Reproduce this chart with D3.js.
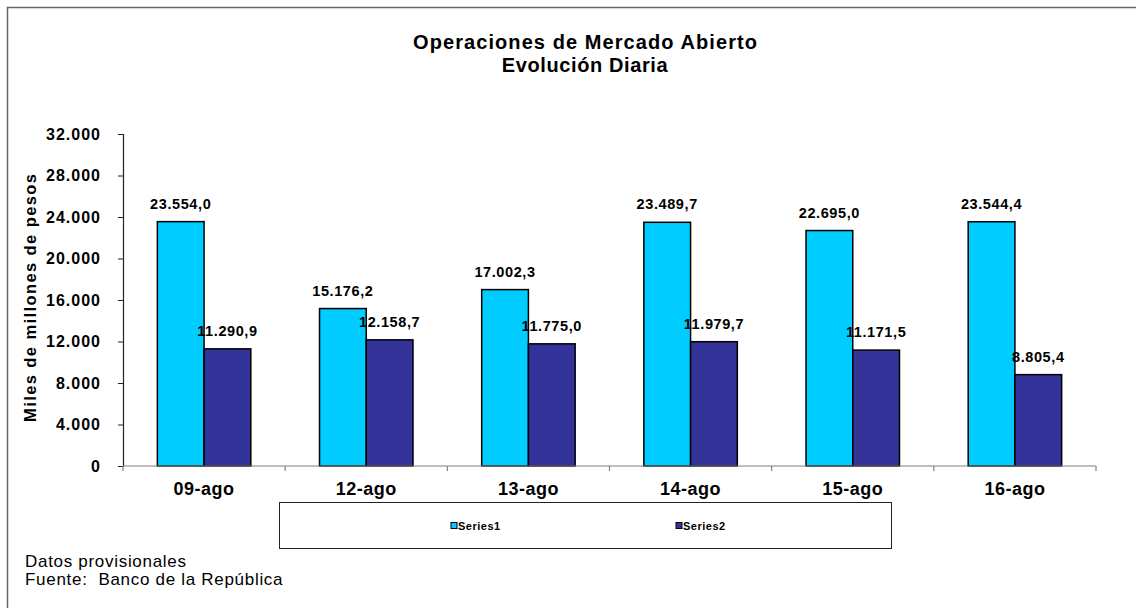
<!DOCTYPE html>
<html>
<head>
<meta charset="utf-8">
<script src="https://cdn.jsdelivr.net/npm/d3@7"></script>
<style>
  body { margin: 0; background: #fff; }
  svg { display: block; font-family: Arial, "Liberation Sans", sans-serif; }
  .tick-lbl { font-size: 16px; font-weight: bold; letter-spacing: 1px; }
  .cat-lbl { font-size: 18px; font-weight: bold; letter-spacing: 0.5px; }
  .val-lbl { font-size: 14.5px; font-weight: bold; letter-spacing: 0.6px; }
</style>
</head>
<body>
<svg class="svg-canvas" width="1136" height="608"></svg>
<script>
var categories = ["09-ago", "12-ago", "13-ago", "14-ago", "15-ago", "16-ago"];
var series1 = [23554.0, 15176.2, 17002.3, 23489.7, 22695.0, 23544.4];
var series2 = [11290.9, 12158.7, 11775.0, 11979.7, 11171.5, 8805.4];
var seriesNames = ["Series1", "Series2"];
var seriesColors = ["#00CCFF", "#333399"];
var yTicks = [0, 4000, 8000, 12000, 16000, 20000, 24000, 28000, 32000];

var svg = d3.select(".svg-canvas");
var width = 1136, height = 608;

var locale = d3.formatLocale({ decimal: ",", thousands: ".", grouping: [3], currency: ["$", ""] });
var fmtTick = locale.format(",.0f");
var fmtVal = locale.format(",.1f");

// outer frame
svg.append("rect")
  .attr("x", 7.5).attr("y", 7.5)
  .attr("width", width).attr("height", height)
  .attr("fill", "none").attr("stroke", "#666").attr("stroke-width", 1.5);

// titles
svg.append("text")
  .attr("x", 585).attr("y", 49)
  .attr("text-anchor", "middle")
  .style("font-size", "20px").style("font-weight", "bold")
  .attr("textLength", 344).attr("lengthAdjust", "spacing")
  .text("Operaciones de Mercado Abierto");
svg.append("text")
  .attr("x", 585).attr("y", 72)
  .attr("text-anchor", "middle")
  .style("font-size", "20px").style("font-weight", "bold")
  .style("letter-spacing", "0.6px")
  .text("Evolución Diaria");

var x0 = 123, x1 = 1096, yTop = 134, yBot = 466;

var x = d3.scaleBand().domain(categories).range([x0, x1]).paddingInner(0).paddingOuter(0);
var inner = d3.scaleBand().domain([0, 1]).range([0, x.bandwidth()]).paddingOuter(0.735).paddingInner(0);
var y = d3.scaleLinear().domain([0, 32000]).range([yBot, yTop]);

// y axis
var yAxis = svg.append("g").attr("transform", "translate(" + x0 + ",0)")
  .call(d3.axisLeft(y).tickValues(yTicks).tickSize(5).tickFormat(fmtTick));
yAxis.select(".domain").attr("stroke", "#222").attr("stroke-width", 1.2);
yAxis.selectAll(".tick line").attr("stroke", "#222");
yAxis.selectAll(".tick text").attr("class", "tick-lbl").attr("x", -22).attr("fill", "#000").style("font-family", null);

// bars
var data = categories.map(function(c, i) {
  return [{ cat: c, s: 0, v: series1[i] }, { cat: c, s: 1, v: series2[i] }];
});
var groups = svg.selectAll("g.cat").data(data).enter()
  .append("g").attr("class", "cat")
  .attr("transform", function(d) { return "translate(" + x(d[0].cat) + ",0)"; });

groups.selectAll("rect").data(function(d) { return d; }).enter()
  .append("rect")
  .attr("x", function(d) { return inner(d.s); })
  .attr("y", function(d) { return y(d.v); })
  .attr("width", inner.bandwidth())
  .attr("height", function(d) { return yBot - y(d.v); })
  .attr("fill", function(d) { return seriesColors[d.s]; })
  .attr("stroke", "#000").attr("stroke-width", 1.5);

groups.selectAll("text").data(function(d) { return d; }).enter()
  .append("text")
  .attr("class", "val-lbl")
  .attr("x", function(d) { return inner(d.s) + inner.bandwidth() / 2; })
  .attr("y", function(d) { return y(d.v) - 13; })
  .attr("text-anchor", "middle")
  .text(function(d) { return fmtVal(d.v); });

// x axis
var xAxis = svg.append("g").attr("transform", "translate(0," + yBot + ")");
xAxis.append("line").attr("x1", x0).attr("x2", x1).attr("stroke", "#808080").attr("stroke-width", 1.2);
xAxis.selectAll("line.tk").data(categories.concat([null])).enter()
  .append("line").attr("class", "tk")
  .attr("x1", function(d) { return d === null ? x1 : x(d); })
  .attr("x2", function(d) { return d === null ? x1 : x(d); })
  .attr("y1", 0).attr("y2", 5).attr("stroke", "#808080").attr("stroke-width", 1.2);
xAxis.selectAll("text").data(categories).enter()
  .append("text").attr("class", "cat-lbl")
  .attr("x", function(d) { return x(d) + x.bandwidth() / 2; })
  .attr("y", 29)
  .attr("text-anchor", "middle")
  .text(function(d) { return d; });

// y title
svg.append("text")
  .attr("transform", "translate(36,298) rotate(-90)")
  .attr("text-anchor", "middle")
  .style("font-size", "16.5px").style("font-weight", "bold")
  .attr("textLength", 248).attr("lengthAdjust", "spacing")
  .text("Miles de millones de pesos");

// legend
var legend = svg.append("g");
legend.append("rect")
  .attr("x", 279.5).attr("y", 502.5).attr("width", 612).attr("height", 46)
  .attr("fill", "#fff").attr("stroke", "#222").attr("stroke-width", 1);
var legX = [451, 676];
var items = legend.selectAll("g.item").data(seriesNames).enter()
  .append("g").attr("class", "item")
  .attr("transform", function(d, i) { return "translate(" + legX[i] + ",526)"; });
items.append("rect")
  .attr("x", 0).attr("y", -3.5).attr("width", 6).attr("height", 6)
  .attr("fill", function(d, i) { return seriesColors[i]; })
  .attr("stroke", "#000").attr("stroke-width", 1);
items.append("text")
  .attr("x", 7).attr("y", 4)
  .style("font-size", "11px").style("font-weight", "bold").style("letter-spacing", "0.5px")
  .text(function(d) { return d; });

// footnotes
svg.append("text").attr("x", 25).attr("y", 567)
  .style("font-size", "17px").style("letter-spacing", "0.7px")
  .text("Datos provisionales");
svg.append("text").attr("x", 25).attr("y", 585)
  .style("font-size", "17px").style("letter-spacing", "0.7px")
  .attr("xml:space", "preserve")
  .text("Fuente:  Banco de la República");
</script>
</body>
</html>
